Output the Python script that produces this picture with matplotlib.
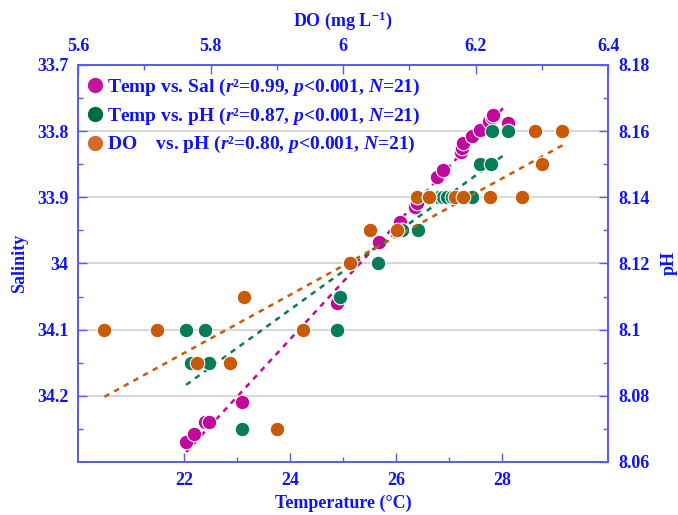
import numpy as np
import matplotlib.pyplot as plt
from matplotlib.lines import Line2D

plt.rcParams['font.family'] = 'Liberation Serif'
plt.rcParams['font.weight'] = 'bold'
plt.rcParams['axes.labelweight'] = 'bold'
plt.rcParams['mathtext.fontset'] = 'custom'
plt.rcParams['mathtext.rm'] = 'Liberation Serif:bold'
plt.rcParams['mathtext.it'] = 'Liberation Serif:italic:bold'
plt.rcParams['mathtext.bf'] = 'Liberation Serif:bold'

# Temperature vs. salinity
temp_sal = [22.04, 22.18, 22.40, 22.47, 23.09, 24.89, 25.67, 26.08, 26.35, 26.39, 26.77,
            26.89, 27.23, 27.25, 27.27, 27.43, 27.58, 27.75, 27.81, 27.83, 28.12]
sal = [34.270, 34.258, 34.240, 34.240, 34.210, 34.060, 33.967, 33.937, 33.915, 33.909, 33.869,
       33.859, 33.831, 33.825, 33.818, 33.807, 33.798, 33.785, 33.778, 33.775, 33.788]

# Temperature vs. pH
temp_ph = [22.04, 22.40, 22.14, 22.47, 23.09, 24.94, 24.89, 25.65, 26.11, 26.42, 26.74,
           26.80, 26.89, 26.96, 27.05, 27.43, 27.58, 27.79, 27.81, 28.12, 26.11]
ph_t = [8.10, 8.10, 8.09, 8.09, 8.07, 8.11, 8.10, 8.12, 8.13, 8.13, 8.14,
        8.14, 8.14, 8.14, 8.14, 8.14, 8.15, 8.15, 8.16, 8.16, 8.13]

# DO vs. pH
do = [5.640, 5.720, 5.780, 5.830, 5.850, 5.900, 5.940, 6.010, 6.040, 6.081, 6.111,
      6.130, 6.169, 6.181, 6.221, 6.270, 6.290, 6.330, 6.300, 6.130, 6.040]
ph_do = [8.10, 8.10, 8.09, 8.09, 8.11, 8.07, 8.10, 8.12, 8.13, 8.13, 8.14,
         8.14, 8.14, 8.14, 8.14, 8.14, 8.16, 8.16, 8.15, 8.14, 8.13]

# regression lines (end points)
fit_temp_sal = [22.04, 28.08]
fit_sal = [34.285, 33.760]
fit_temp_ph = [22.04, 28.09]
fit_ph_t = [8.0833, 8.1534]
fit_do = [5.640, 6.332]
fit_ph_do = [8.0797, 8.1558]

labels = ['Temp vs. Sal ($r$²=0.99, $p$<0.001, $N$=21)',
          'Temp vs. pH ($r$²=0.87, $p$<0.001, $N$=21)',
          'DO    vs. pH ($r$²=0.80, $p$<0.001, $N$=21)']

c_sal, c_ph, c_do = '#C2089C', '#067D57', '#C85A08'
leg_colors = ['#C0169E', '#006B3E', '#D06A30']
txt = '#0F14F0'
spine_c = '#5B5BF2'

fig = plt.figure(figsize=(6.78, 5.15), dpi=100)
ax = fig.add_axes([0.115, 0.103, 0.782, 0.771])
axp = ax.twinx()
axd = axp.twiny()

# salinity (left, inverted) vs temperature (bottom)
ax.scatter(temp_sal, sal, s=110, color=c_sal, edgecolor='white', linewidth=0.8, zorder=3)
ax.plot(fit_temp_sal, fit_sal, color=c_sal, lw=1.8, ls=(0, (2.2, 2.2)), zorder=2)
ax.set_xlim(20, 30)
ax.set_ylim(34.3, 33.7)
ax.set_xticks([22, 24, 26, 28])
ax.set_xticks([23, 25, 27], minor=True)
ax.set_yticks([33.7, 33.8, 33.9, 34.0, 34.1, 34.2])
ax.set_yticklabels(['33.7', '33.8', '33.9', '34', '34.1', '34.2'])
ax.set_yticks(np.arange(33.75, 34.3, 0.1), minor=True)
for yv in [33.8, 33.9, 34.0, 34.1, 34.2]:
    ax.axhline(yv, color='#D6D6D6', lw=1.4, zorder=0)
ax.set_xlabel('Temperature (°C)', fontsize=13, color=txt, labelpad=4)
ax.set_ylabel('Salinity', fontsize=13, color=txt, labelpad=6)

# pH (right) vs temperature
axp.scatter(temp_ph, ph_t, s=110, color=c_ph, edgecolor='white', linewidth=0.8, zorder=3)
axp.plot(fit_temp_ph, fit_ph_t, color=c_ph, lw=1.8, ls=(0, (2.2, 2.2)), zorder=2)
axp.set_ylim(8.06, 8.18)
axp.set_yticks([8.06, 8.08, 8.10, 8.12, 8.14, 8.16, 8.18])
axp.set_yticklabels(['8.06', '8.08', '8.1', '8.12', '8.14', '8.16', '8.18'])
axp.set_yticks(np.arange(8.07, 8.18, 0.02), minor=True)
axp.set_ylabel('pH', fontsize=13, color=txt, labelpad=8)

# pH vs DO (top)
axd.scatter(do, ph_do, s=110, color=c_do, edgecolor='white', linewidth=0.8, zorder=3)
axd.plot(fit_do, fit_ph_do, color=c_do, lw=1.8, ls=(0, (2.2, 2.2)), zorder=2)
axd.set_xlim(5.6, 6.4)
axd.set_xticks([5.6, 5.8, 6.0, 6.2, 6.4])
axd.set_xticklabels(['5.6', '5.8', '6', '6.2', '6.4'])
axd.set_xticks([5.7, 5.9, 6.1, 6.3], minor=True)
axd.set_xlabel('DO (mg L$^{-1}$)', fontsize=13, color=txt, labelpad=9)

for a in (ax, axp, axd):
    for sp in a.spines.values():
        sp.set_color(spine_c)
        sp.set_linewidth(1.1)
    a.tick_params(which='both', direction='in', colors=spine_c, labelcolor=txt,
                  labelsize=13, width=1.0)
    a.tick_params(which='major', length=6.5, pad=7)
    a.tick_params(which='minor', length=3.5)

handles = [Line2D([], [], ls='none', marker='o', markersize=10, color=c,
                  markeredgecolor=c) for c in leg_colors]
leg = axd.legend(handles, labels, loc='upper left', frameon=False, fontsize=14,
                 handlelength=0.6, handletextpad=0.3, labelspacing=0.4,
                 borderaxespad=0.3, borderpad=0.3)
for t in leg.get_texts():
    t.set_color(txt)

fig.savefig('out.png', dpi=100)
